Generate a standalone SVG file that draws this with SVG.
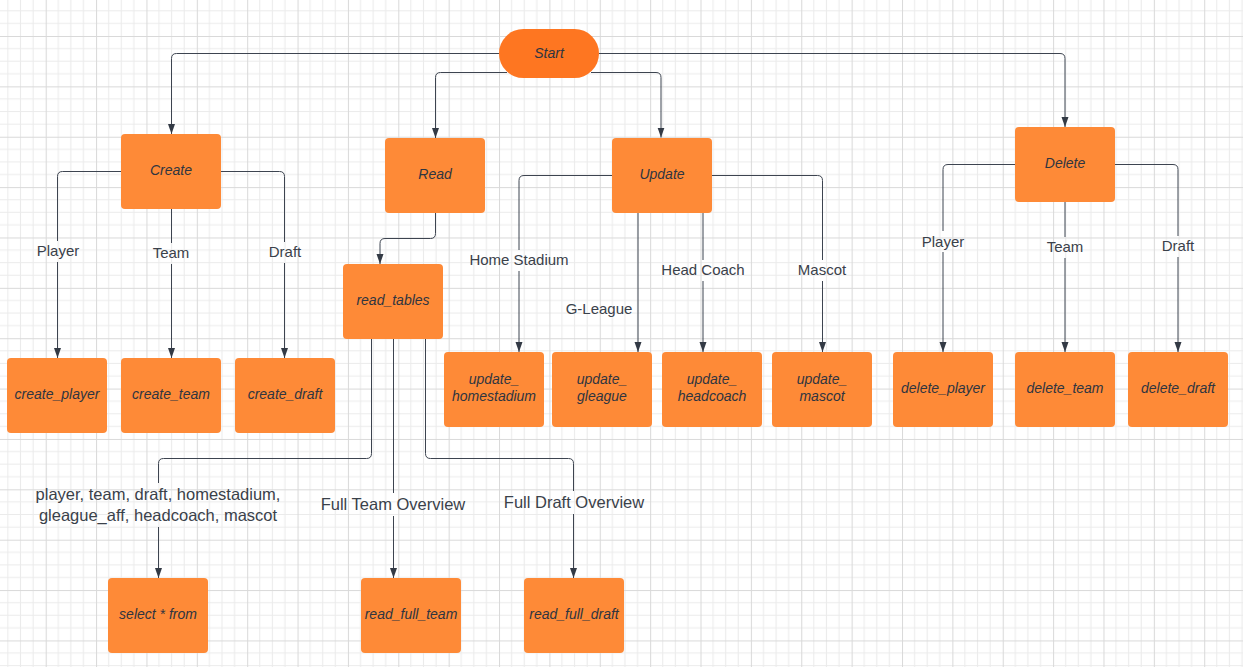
<svg xmlns="http://www.w3.org/2000/svg" width="1243" height="667" viewBox="0 0 1243 667">
<style>
.n{fill:#fe8a37;}
.s{fill:#fe7621;}
.nt{font-family:"Liberation Sans",Arial,sans-serif;font-size:14px;font-style:italic;fill:#2f3540;text-anchor:middle;}
.el{font-family:"Liberation Sans",Arial,sans-serif;font-size:15px;fill:#3a414a;text-anchor:middle;}
.el2{font-family:"Liberation Sans",Arial,sans-serif;font-size:16.5px;fill:#3a414a;text-anchor:middle;}
.c{fill:none;stroke:#3d4450;stroke-width:1;marker-end:url(#arr);}
.lb{fill:url(#grid);}
</style>
<defs>
<pattern id="grid" patternUnits="userSpaceOnUse" x="45.7" y="36" width="50.37" height="50.37">
<rect width="50.37" height="50.37" fill="#ffffff"/>
<path d="M12.59,0V50.37M25.185,0V50.37M37.78,0V50.37M0,12.59H50.37M0,25.185H50.37M0,37.78H50.37" stroke="#ebebeb" stroke-width="1"/>
<path d="M0.5,0V50.37M0,0.5H50.37" stroke="#d9d9d9" stroke-width="1"/>
</pattern>
<marker id="arr" markerUnits="userSpaceOnUse" markerWidth="10" markerHeight="8" refX="10" refY="4" orient="auto">
<path d="M0,0.5L10,4L0,7.5Z" fill="#333a45"/>
</marker>
</defs>
<rect width="1243" height="667" fill="url(#grid)"/>

<g id="connectors">
<path class="c" d="M499,53.5H176.5Q171.5,53.5 171.5,58.5V134"/>
<path class="c" d="M507,72.5H440.5Q435.5,72.5 435.5,77.5V138"/>
<path class="c" d="M591,72.5H656Q661,72.5 661,77.5V137.5"/>
<path class="c" d="M599,53.5H1060Q1065,53.5 1065,58.5V127"/>
<path class="c" d="M121,171.5H62.5Q57.5,171.5 57.5,176.5V358"/>
<path class="c" d="M171.5,209V358"/>
<path class="c" d="M221,171.5H279.5Q284.5,171.5 284.5,176.5V358"/>
<path class="c" d="M435.5,213V233.5Q435.5,238.5 430.5,238.5H385Q380,238.5 380,243.5V264"/>
<path class="c" d="M371.5,339V453.5Q371.5,458.5 366.5,458.5H163.5Q158.5,458.5 158.5,463.5V578"/>
<path class="c" d="M393.5,339V578"/>
<path class="c" d="M425.5,339V453.5Q425.5,458.5 430.5,458.5H568.5Q573.5,458.5 573.5,463.5V578"/>
<path class="c" d="M612,175.5H524Q519,175.5 519,180.5V352"/>
<path class="c" d="M638,213V352"/>
<path class="c" d="M703,213V352"/>
<path class="c" d="M712,175.5H817.5Q822.5,175.5 822.5,180.5V352"/>
<path class="c" d="M1015,164.5H948Q943,164.5 943,169.5V352"/>
<path class="c" d="M1065,202V352"/>
<path class="c" d="M1115,164.5H1173Q1178,164.5 1178,169.5V352"/>
</g>

<g id="edge-labels">
<rect class="lb" x="34" y="241" width="48" height="21"/><text class="el" x="58" y="256">Player</text>
<rect class="lb" x="150" y="243" width="42" height="21"/><text class="el" x="171" y="258">Team</text>
<rect class="lb" x="266" y="242" width="38" height="21"/><text class="el" x="285" y="257">Draft</text>
<rect class="lb" x="467" y="250" width="104" height="21"/><text class="el" x="519" y="265">Home Stadium</text>
<text class="el" x="599" y="314">G-League</text>
<rect class="lb" x="659" y="260" width="88" height="21"/><text class="el" x="703" y="275">Head Coach</text>
<rect class="lb" x="796" y="260" width="53" height="21"/><text class="el" x="822" y="275">Mascot</text>
<rect class="lb" x="919" y="231" width="48" height="21"/><text class="el" x="943" y="247">Player</text>
<rect class="lb" x="1044" y="237" width="42" height="21"/><text class="el" x="1065" y="252">Team</text>
<rect class="lb" x="1159" y="236" width="38" height="21"/><text class="el" x="1178" y="251">Draft</text>
<rect class="lb" x="32" y="483" width="254" height="44"/>
<text class="el2" x="158" y="500">player, team, draft, homestadium,</text>
<text class="el2" x="158" y="521">gleague_aff, headcoach, mascot</text>
<rect class="lb" x="318" y="493" width="151" height="23"/><text class="el2" x="393" y="510">Full Team Overview</text>
<rect class="lb" x="500" y="491" width="148" height="23"/><text class="el2" x="574" y="508">Full Draft Overview</text>
</g>

<g id="start"><rect class="s" x="499" y="29" width="100" height="49" rx="24.5"/><text class="nt" x="549" y="58">Start</text></g>
<g id="create"><rect class="n" x="121" y="134" width="100" height="75" rx="4"/><text class="nt" x="171" y="175">Create</text></g>
<g id="read"><rect class="n" x="385" y="138" width="100" height="75" rx="4"/><text class="nt" x="435" y="179">Read</text></g>
<g id="update"><rect class="n" x="612" y="138" width="100" height="75" rx="4"/><text class="nt" x="662" y="179">Update</text></g>
<g id="delete"><rect class="n" x="1015" y="127" width="100" height="75" rx="4"/><text class="nt" x="1065" y="168">Delete</text></g>
<g id="read_tables"><rect class="n" x="343" y="264" width="100" height="75" rx="4"/><text class="nt" x="393" y="305">read_tables</text></g>
<g id="create_player"><rect class="n" x="7" y="358" width="100" height="75" rx="4"/><text class="nt" x="57" y="399">create_player</text></g>
<g id="create_team"><rect class="n" x="121" y="358" width="100" height="75" rx="4"/><text class="nt" x="171" y="399">create_team</text></g>
<g id="create_draft"><rect class="n" x="235" y="358" width="100" height="75" rx="4"/><text class="nt" x="285" y="399">create_draft</text></g>
<g id="update_homestadium"><rect class="n" x="444" y="352" width="100" height="75" rx="4"/><text class="nt" x="494" y="384">update_</text><text class="nt" x="494" y="401">homestadium</text></g>
<g id="update_gleague"><rect class="n" x="552" y="352" width="100" height="75" rx="4"/><text class="nt" x="602" y="384">update_</text><text class="nt" x="602" y="401">gleague</text></g>
<g id="update_headcoach"><rect class="n" x="662" y="352" width="100" height="75" rx="4"/><text class="nt" x="712" y="384">update_</text><text class="nt" x="712" y="401">headcoach</text></g>
<g id="update_mascot"><rect class="n" x="772" y="352" width="100" height="75" rx="4"/><text class="nt" x="822" y="384">update_</text><text class="nt" x="822" y="401">mascot</text></g>
<g id="delete_player"><rect class="n" x="893" y="352" width="100" height="75" rx="4"/><text class="nt" x="943" y="393">delete_player</text></g>
<g id="delete_team"><rect class="n" x="1015" y="352" width="100" height="75" rx="4"/><text class="nt" x="1065" y="393">delete_team</text></g>
<g id="delete_draft"><rect class="n" x="1128" y="352" width="100" height="75" rx="4"/><text class="nt" x="1178" y="393">delete_draft</text></g>
<g id="select_from"><rect class="n" x="108" y="578" width="100" height="75" rx="4"/><text class="nt" x="158" y="619">select * from</text></g>
<g id="read_full_team"><rect class="n" x="361" y="578" width="100" height="75" rx="4"/><text class="nt" x="411" y="619">read_full_team</text></g>
<g id="read_full_draft"><rect class="n" x="524" y="578" width="100" height="75" rx="4"/><text class="nt" x="574" y="619">read_full_draft</text></g>
</svg>
